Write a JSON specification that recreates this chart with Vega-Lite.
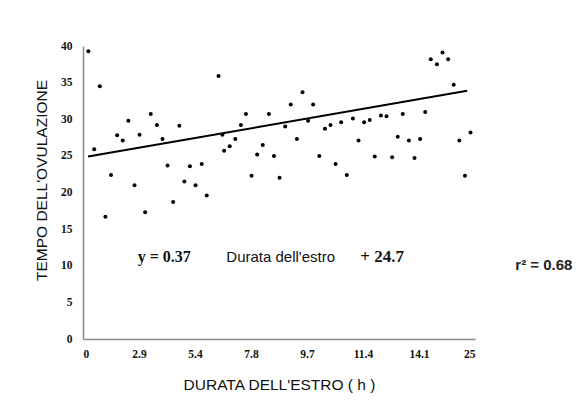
{
  "$schema": "https://vega.github.io/schema/vega-lite/v6.json",
  "width": 392,
  "height": 293,
  "autosize": {"type": "none"},
  "padding": {"left": 83, "top": 46, "right": 108, "bottom": 74},
  "background": "white",
  "config": {"view": {"stroke": null}},
  "datasets": {
    "points": [
      {"x": 0.095, "y": 39.3}, {"x": 0.20, "y": 25.9}, {"x": 0.30, "y": 34.5}, {"x": 0.40, "y": 16.7},
      {"x": 0.50, "y": 22.4}, {"x": 0.61, "y": 27.8}, {"x": 0.71, "y": 27.1}, {"x": 0.81, "y": 29.8},
      {"x": 0.92, "y": 21.0}, {"x": 1.01, "y": 27.9}, {"x": 1.11, "y": 17.3}, {"x": 1.21, "y": 30.7},
      {"x": 1.32, "y": 29.2}, {"x": 1.42, "y": 27.3}, {"x": 1.51, "y": 23.7}, {"x": 1.61, "y": 18.7},
      {"x": 1.72, "y": 29.1}, {"x": 1.81, "y": 21.5}, {"x": 1.91, "y": 23.6}, {"x": 2.01, "y": 21.0},
      {"x": 2.12, "y": 23.9}, {"x": 2.21, "y": 19.6}, {"x": 2.42, "y": 35.9}, {"x": 2.49, "y": 27.9},
      {"x": 2.52, "y": 25.7}, {"x": 2.62, "y": 26.3}, {"x": 2.72, "y": 27.3}, {"x": 2.82, "y": 29.2},
      {"x": 2.91, "y": 30.7}, {"x": 3.01, "y": 22.3}, {"x": 3.11, "y": 25.2}, {"x": 3.21, "y": 26.5},
      {"x": 3.32, "y": 30.7}, {"x": 3.41, "y": 25.0}, {"x": 3.51, "y": 22.0}, {"x": 3.61, "y": 29.0},
      {"x": 3.71, "y": 32.0}, {"x": 3.82, "y": 27.3}, {"x": 3.92, "y": 33.7}, {"x": 4.02, "y": 29.8},
      {"x": 4.11, "y": 32.0}, {"x": 4.22, "y": 25.0}, {"x": 4.32, "y": 28.7}, {"x": 4.42, "y": 29.2},
      {"x": 4.51, "y": 23.9}, {"x": 4.61, "y": 29.6}, {"x": 4.71, "y": 22.4}, {"x": 4.82, "y": 30.1},
      {"x": 4.92, "y": 27.1}, {"x": 5.02, "y": 29.6}, {"x": 5.12, "y": 29.9}, {"x": 5.21, "y": 24.9},
      {"x": 5.32, "y": 30.5}, {"x": 5.42, "y": 30.4}, {"x": 5.52, "y": 24.8}, {"x": 5.62, "y": 27.6},
      {"x": 5.71, "y": 30.7}, {"x": 5.82, "y": 27.1}, {"x": 5.92, "y": 24.7}, {"x": 6.02, "y": 27.3},
      {"x": 6.11, "y": 31.0}, {"x": 6.21, "y": 38.2}, {"x": 6.32, "y": 37.5}, {"x": 6.42, "y": 39.1},
      {"x": 6.52, "y": 38.2}, {"x": 6.62, "y": 34.7}, {"x": 6.72, "y": 27.1}, {"x": 6.82, "y": 22.3},
      {"x": 6.92, "y": 28.2}
    ],
    "fit": [
      {"x": 0.09, "y": 24.9},
      {"x": 6.86, "y": 33.9}
    ],
    "one": [{}]
  },
  "layer": [
    {
      "data": {"name": "fit"},
      "mark": {"type": "line", "color": "black", "strokeWidth": 2},
      "encoding": {
        "x": {
          "field": "x", "type": "quantitative",
          "scale": {"domain": [0, 7], "nice": false, "zero": false},
          "axis": {
            "values": [0, 1, 2, 3, 4, 5, 6, 7],
            "tickCount": 20,
            "labelExpr": "['0','2.9','5.4','7.8','9.7','11.4','14.1','25'][datum.value]",
            "labelOverlap": false,
            "title": "DURATA DELL'ESTRO ( h )",
            "titleFont": "Liberation Sans", "titleFontSize": 15.5, "titleFontWeight": "normal", "titleColor": "#111",
            "titlePadding": 18,
            "labelFont": "Liberation Serif", "labelFontSize": 11.5, "labelFontWeight": "bold", "labelColor": "#111",
            "labelPadding": 9,
            "ticks": false, "grid": false,
            "domainColor": "#888", "domainWidth": 1.5
          }
        },
        "y": {
          "field": "y", "type": "quantitative",
          "scale": {"domain": [0, 40], "nice": false},
          "axis": {
            "values": [0, 5, 10, 15, 20, 25, 30, 35, 40],
            "tickCount": 20,
            "labelOverlap": false,
            "title": "TEMPO DELL'OVULAZIONE",
            "titleFont": "Liberation Sans", "titleFontSize": 15.5, "titleFontWeight": "normal", "titleColor": "#111",
            "titleX": -34, "titleY": 134,
            "labelFont": "Liberation Serif", "labelFontSize": 11.5, "labelFontWeight": "bold", "labelColor": "#111",
            "labelPadding": 11,
            "ticks": false, "grid": false,
            "domainColor": "#888", "domainWidth": 1.5
          }
        }
      }
    },
    {
      "data": {"name": "points"},
      "mark": {"type": "circle", "color": "black", "opacity": 1, "size": 16},
      "encoding": {
        "x": {"field": "x", "type": "quantitative"},
        "y": {"field": "y", "type": "quantitative"}
      }
    },
    {
      "data": {"name": "one"},
      "mark": {"type": "text", "text": "y = 0.37", "font": "Liberation Serif", "fontWeight": "bold", "fontSize": 16, "align": "center", "baseline": "middle", "color": "#111"},
      "encoding": {"x": {"datum": 1.45}, "y": {"datum": 11.2}}
    },
    {
      "data": {"name": "one"},
      "mark": {"type": "text", "text": "Durata dell'estro", "font": "Liberation Sans", "fontSize": 15, "align": "center", "baseline": "middle", "color": "#111"},
      "encoding": {"x": {"datum": 3.53}, "y": {"datum": 11.2}}
    },
    {
      "data": {"name": "one"},
      "mark": {"type": "text", "text": "+ 24.7", "font": "Liberation Serif", "fontWeight": "bold", "fontSize": 17, "align": "center", "baseline": "middle", "color": "#111"},
      "encoding": {"x": {"datum": 5.34}, "y": {"datum": 11.2}}
    },
    {
      "data": {"name": "one"},
      "mark": {"type": "text", "text": "r² = 0.68", "font": "Liberation Sans", "fontWeight": "bold", "fontSize": 15, "align": "center", "baseline": "middle", "color": "#222"},
      "encoding": {"x": {"datum": 8.23}, "y": {"datum": 10.1}}
    }
  ]
}
